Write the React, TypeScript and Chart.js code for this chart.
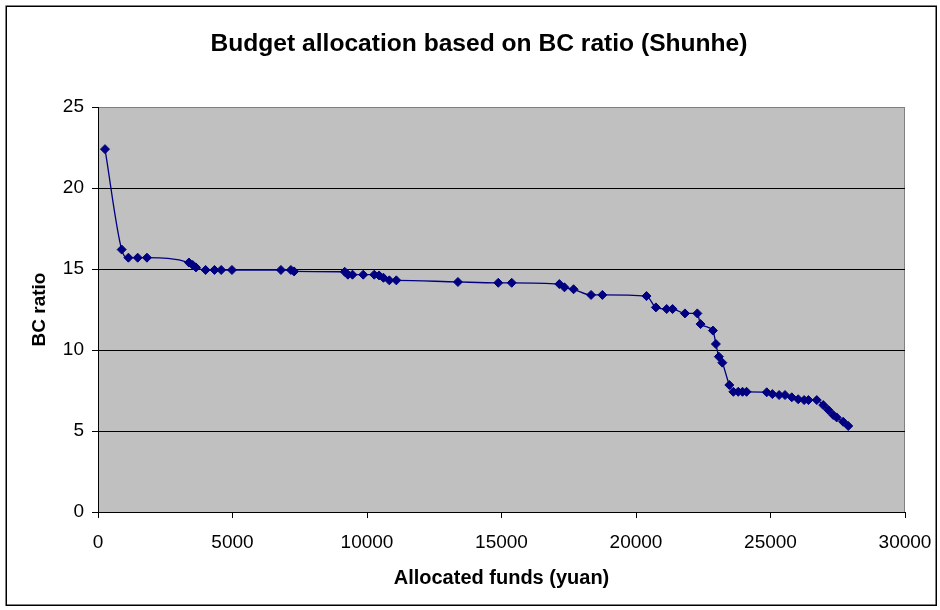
import React, { useEffect, useRef } from "react";
import { Chart, registerables } from "chart.js";

Chart.register(...registerables);

const chartTitle = "Budget allocation based on BC ratio (Shunhe)";
const xAxisTitle = "Allocated funds (yuan)";
const yAxisTitle = "BC ratio";

const fundsYuan = [
  260, 880, 1130, 1475, 1820, 3380, 3520, 3640, 4000, 4330, 4580, 4980, 6800, 7170, 7290,
  9170, 9290, 9460, 9860, 10270, 10450, 10610, 10830, 11090, 13380, 14880, 15380, 17150,
  17340, 17680, 18330, 18750, 20390, 20740, 21140, 21360, 21820, 22280, 22400, 22860, 22970,
  23080, 23210, 23470, 23620, 23800, 23960, 24110, 24860, 25070, 25320, 25540, 25790, 26030,
  26250, 26410, 26720, 26960, 27150, 27330, 27460, 27700, 27890,
];

const bcRatio = [
  22.4, 16.2, 15.7, 15.7, 15.7, 15.4, 15.25, 15.1, 14.94, 14.94, 14.94, 14.94, 14.94, 14.94, 14.85,
  14.83, 14.65, 14.65, 14.65, 14.65, 14.6, 14.46, 14.3, 14.3, 14.2, 14.15, 14.15, 14.07,
  13.87, 13.75, 13.4, 13.4, 13.33, 12.63, 12.53, 12.53, 12.26, 12.26, 11.6, 11.2, 10.37,
  9.59, 9.22, 7.84, 7.42, 7.42, 7.42, 7.42, 7.39, 7.28, 7.22, 7.22, 7.08, 6.96,
  6.91, 6.91, 6.91, 6.6, 6.3, 5.99, 5.84, 5.57, 5.31,
];

const xTickValues = [0, 5000, 10000, 15000, 20000, 25000, 30000];
const yTickValues = [0, 5, 10, 15, 20, 25];

const FONT = "'Liberation Sans', Arial, sans-serif";

const framePlugin = {
  id: "excelFrame",
  beforeDraw(chart: any) {
    const { ctx, chartArea: a } = chart;
    ctx.save();
    ctx.fillStyle = "#ffffff";
    ctx.fillRect(0, 0, chart.width, chart.height);
    ctx.fillStyle = "#C0C0C0";
    ctx.fillRect(a.left, a.top, a.right - a.left, a.bottom - a.top);
    ctx.strokeStyle = "#808080";
    ctx.lineWidth = 1;
    ctx.strokeRect(a.left + 0.5, a.top + 0.5, a.right - a.left - 1, a.bottom - a.top);
    ctx.strokeStyle = "#000000";
    ctx.lineWidth = 1.5;
    ctx.strokeRect(6.25, 6.25, 930, 599);
    ctx.restore();
  },
};

export default function App() {
  const canvasRef = useRef<HTMLCanvasElement | null>(null);

  useEffect(() => {
    const canvas = canvasRef.current;
    if (!canvas) return;
    const points = fundsYuan.map((x, i) => ({ x, y: bcRatio[i] }));
    const chart = new Chart(canvas, {
      type: "scatter",
      data: {
        datasets: [
          {
            data: points,
            showLine: true,
            borderColor: "#000080",
            borderWidth: 1.3,
            pointStyle: "rectRot",
            pointRadius: 4.5,
            pointBackgroundColor: "#000080",
            pointBorderColor: "#000080",
            pointBorderWidth: 1,
            cubicInterpolationMode: "monotone",
          } as any,
        ],
      },
      options: {
        animation: false,
        responsive: false,
        devicePixelRatio: 1,
        layout: { padding: { left: 53, right: 35, top: 0, bottom: 0 } },
        plugins: {
          legend: { display: false },
          tooltip: { enabled: false },
          title: {
            display: true,
            text: chartTitle,
            color: "#000",
            font: { family: FONT, size: 24.6, weight: "bold" },
            padding: { top: 29, bottom: 48.5 },
          },
        },
        scales: {
          x: {
            type: "linear",
            min: 0,
            max: 30000,
            afterBuildTicks: (s: any) => {
              s.ticks = xTickValues.map((v) => ({ value: v }));
            },
            afterFit: (s: any) => {
              s.height = 98;
              s.paddingLeft = 0;
              s.paddingRight = 0;
            },
            ticks: {
              color: "#000",
              font: { family: FONT, size: 19 },
              padding: 13,
              maxRotation: 0,
              callback: (v: any) => String(v),
            },
            grid: {
              drawOnChartArea: false,
              drawTicks: true,
              tickLength: 6,
              color: "#000",
              tickColor: "#000",
            },
            border: { color: "#000", width: 1 },
            title: {
              display: true,
              text: xAxisTitle,
              color: "#000",
              font: { family: FONT, size: 20, weight: "bold" },
              padding: { top: 0, bottom: 19.5 },
            },
          },
          y: {
            type: "linear",
            min: 0,
            max: 25,
            afterBuildTicks: (s: any) => {
              s.ticks = yTickValues.map((v) => ({ value: v }));
            },
            afterFit: (s: any) => {
              s.width = 45;
            },
            ticks: {
              color: "#000",
              font: { family: FONT, size: 19 },
              padding: 8,
              callback: (v: any) => String(v),
            },
            grid: {
              color: (c: any) => (c.tick && c.tick.value === 25 ? "#808080" : "#000"),
              tickColor: "#000",
              tickLength: 6,
              drawTicks: true,
            },
            border: { color: "#000", width: 1 },
            title: {
              display: true,
              text: yAxisTitle,
              color: "#000",
              font: { family: FONT, size: 19, weight: "bold" },
              padding: { top: -24.4, bottom: 0 },
            },
          },
        },
      },
      plugins: [framePlugin],
    });
    return () => chart.destroy();
  }, []);

  return (
    <div style={{ position: "absolute", left: 0, top: 0, width: 940, height: 610 }}>
      <canvas ref={canvasRef} width={940} height={610} style={{ width: 940, height: 610 }} />
    </div>
  );
}
